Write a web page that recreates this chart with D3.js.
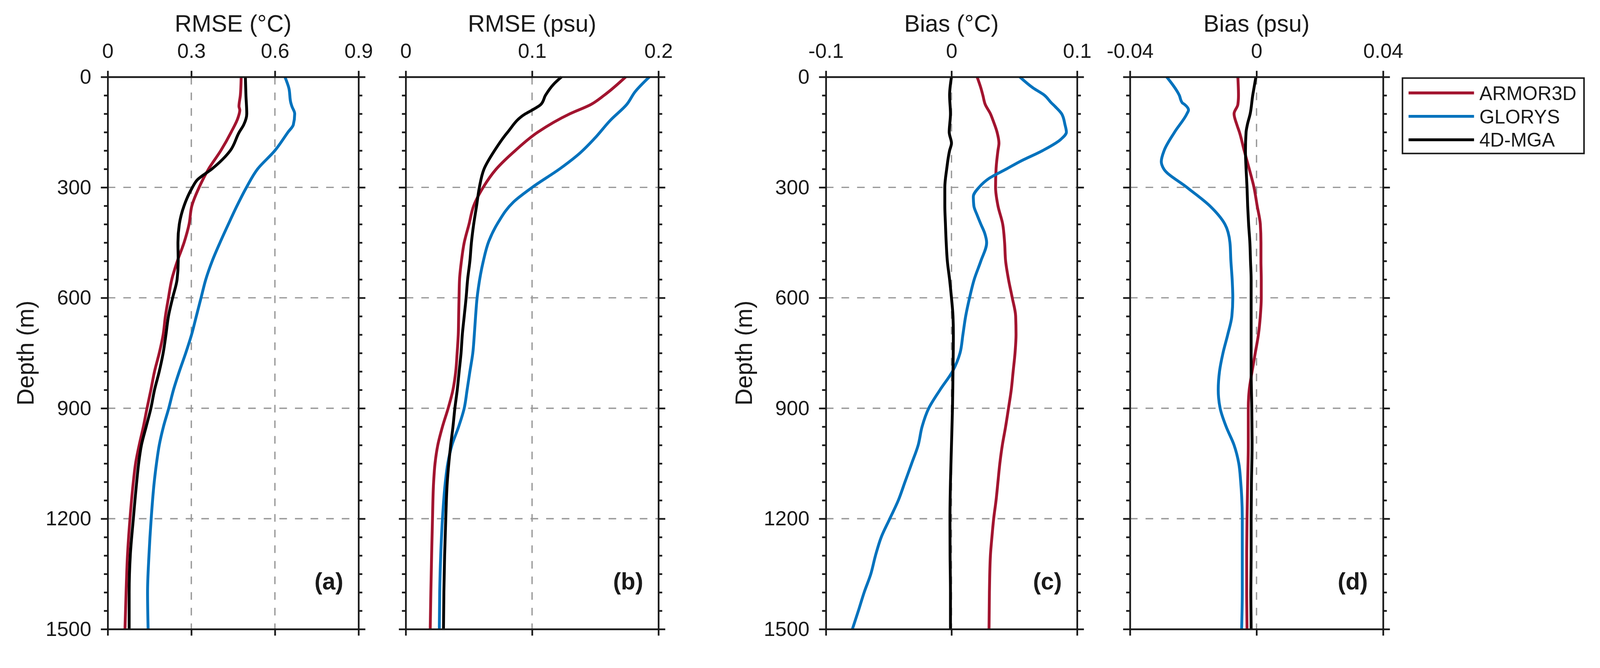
<!DOCTYPE html>
<html>
<head>
<meta charset="utf-8">
<script src="https://cdn.jsdelivr.net/npm/d3@7"></script>
<style>
  html, body { margin: 0; padding: 0; background: #fff; overflow: hidden; }
  svg { display: block; width: 100vw; height: 100vh; }
  text { font-family: "Liberation Sans", Arial, Helvetica, sans-serif; fill: #1a1a1a; }
</style>
</head>
<body>
<script>
// series names and colours (legend order = draw order)
var seriesNames = ["ARMOR3D", "GLORYS", "4D-MGA"];
var seriesColors = ["#A2142F", "#0072BD", "#000000"];

// depth axis
var depthDomain = [0, 1500];
var depthMajor = [0, 300, 600, 900, 1200, 1500];
var depthMinor = d3.range(0, 1501, 50);
var depthGrid = [300, 600, 900, 1200];

// x axes, one per panel
var aTicks = [0, 0.3, 0.6, 0.9], aTickLabels = ["0", "0.3", "0.6", "0.9"];
var bTicks = [0, 0.1, 0.2], bTickLabels = ["0", "0.1", "0.2"];
var cTicks = [-0.1, 0, 0.1], cTickLabels = ["-0.1", "0", "0.1"];
var dTicks = [-0.04, 0, 0.04], dTickLabels = ["-0.04", "0", "0.04"];

// (a) RMSE temperature, [depth m, value]
var rmseT_armor = [[0,.479],[50,.476],[80,.471],[90,.474],[110,.468],[150,.443],[200,.406],[250,.362],[300,.328],[350,.302],[400,.292],[450,.274],[500,.250],[550,.230],[600,.218],[650,.207],[700,.199],[750,.185],[800,.168],[850,.155],[900,.141],[950,.128],[1000,.113],[1050,.100],[1100,.092],[1200,.080],[1300,.071],[1400,.066],[1500,.062]];
var rmseT_glorys = [[0,.636],[30,.650],[70,.657],[80,.661],[100,.671],[130,.666],[150,.647],[200,.600],[250,.538],[300,.498],[350,.464],[400,.433],[450,.403],[500,.375],[550,.352],[600,.335],[650,.318],[700,.301],[750,.280],[800,.257],[850,.236],[900,.219],[950,.200],[1000,.185],[1050,.175],[1100,.167],[1200,.156],[1300,.148],[1400,.143],[1500,.145]];
var rmseT_mga = [[0,.494],[50,.496],[100,.499],[130,.488],[150,.472],[200,.440],[250,.374],[280,.321],[300,.304],[350,.274],[400,.257],[450,.252],[500,.253],[550,.249],[600,.233],[650,.218],[700,.209],[750,.199],[800,.185],[850,.168],[900,.155],[950,.138],[1000,.121],[1050,.111],[1100,.104],[1200,.092],[1300,.081],[1400,.077],[1500,.077]];

// (b) RMSE salinity
var rmseS_armor = [[0,.1741],[50,.157],[75,.1465],[100,.130],[150,.1046],[200,.0867],[250,.0717],[300,.0613],[350,.0538],[400,.0501],[450,.0463],[500,.0441],[550,.0426],[600,.0422],[650,.0419],[700,.0416],[750,.0407],[800,.0396],[850,.0374],[900,.0336],[950,.0291],[1000,.0254],[1050,.0232],[1100,.0221],[1200,.0212],[1300,.0205],[1400,.0199],[1500,.0194]];
var rmseS_glorys = [[0,.1928],[40,.1816],[75,.1749],[117,.1622],[167,.1495],[208,.1375],[248,.1226],[300,.1001],[340,.0852],[395,.0732],[446,.0658],[502,.0613],[573,.0575],[600,.0565],[650,.0553],[700,.0543],[750,.0531],[800,.0508],[850,.0486],[900,.0463],[950,.0419],[1000,.0366],[1050,.0333],[1100,.0314],[1200,.0291],[1300,.0277],[1400,.0269],[1500,.0266]];
var rmseS_mga = [[0,.1233],[20,.117],[50,.1106],[75,.1069],[90,.1001],[100,.0949],[150,.0807],[200,.0703],[250,.062],[300,.0583],[350,.0561],[400,.0538],[450,.052],[500,.0508],[550,.049],[600,.0478],[650,.0463],[700,.0448],[750,.0438],[800,.0423],[850,.0408],[900,.0389],[950,.0374],[1000,.0356],[1050,.0341],[1100,.0329],[1200,.0317],[1300,.0308],[1400,.0302],[1500,.0299]];

// (c) bias temperature
var biasT_armor = [[0,.0204],[30,.0234],[50,.025],[75,.0269],[100,.031],[120,.0333],[150,.0363],[180,.0378],[200,.037],[250,.0355],[300,.0351],[350,.037],[400,.0408],[450,.0423],[500,.0431],[550,.0454],[600,.0484],[650,.0511],[700,.0514],[750,.0506],[800,.0491],[850,.0476],[900,.0454],[950,.0431],[1000,.0405],[1050,.0385],[1100,.037],[1150,.0355],[1200,.0336],[1250,.0322],[1300,.031],[1400,.0302],[1500,.0299]];
var biasT_glorys = [[0,.0544],[30,.065],[50,.0741],[70,.0794],[80,.0824],[100,.0877],[130,.0904],[150,.0915],[170,.0869],[200,.0726],[230,.0544],[250,.0438],[275,.0302],[300,.0219],[325,.0174],[350,.0178],[375,.0204],[400,.0234],[425,.0265],[450,.028],[500,.0234],[550,.0181],[600,.0144],[650,.0113],[700,.0091],[750,.0068],[800,.0008],[850,-.0091],[900,-.0181],[950,-.0234],[1000,-.0265],[1050,-.0317],[1100,-.037],[1150,-.0423],[1200,-.0491],[1250,-.0559],[1300,-.0605],[1350,-.0642],[1400,-.0695],[1450,-.0741],[1500,-.0789]];
var biasT_mga = [[0,0],[50,-.0015],[100,-.0008],[150,-.0018],[180,0],[200,-.0015],[250,-.0038],[300,-.0053],[350,-.0053],[400,-.0048],[450,-.0042],[500,-.0033],[550,-.0015],[600,0],[650,.0012],[700,.0015],[800,.0012],[900,.0008],[1000,0],[1100,-.0008],[1200,-.0012],[1300,-.0011],[1400,-.0008],[1500,-.0008]];

// (d) bias salinity
var biasS_armor = [[0,-.0059],[50,-.0057],[75,-.0059],[100,-.0071],[130,-.0062],[150,-.0054],[200,-.0039],[250,-.0023],[300,-.0008],[350,.0002],[400,.0012],[450,.0014],[500,.0014],[550,.0015],[600,.0015],[650,.0012],[700,.0006],[750,-.0004],[800,-.0014],[850,-.0023],[900,-.0026],[1000,-.0026],[1100,-.0028],[1200,-.003],[1300,-.0031],[1400,-.0031],[1500,-.003]];
var biasS_glorys = [[0,-.0284],[50,-.0244],[70,-.0235],[75,-.0227],[90,-.0215],[100,-.022],[150,-.0259],[200,-.0292],[230,-.0301],[250,-.0293],[300,-.022],[350,-.0148],[400,-.01],[450,-.0084],[500,-.0081],[550,-.0077],[600,-.0075],[650,-.0078],[700,-.0091],[750,-.0106],[800,-.0117],[850,-.0121],[900,-.0115],[950,-.0096],[1000,-.0071],[1050,-.0056],[1100,-.005],[1200,-.0045],[1300,-.0045],[1400,-.0045],[1500,-.0047]];
var biasS_mga = [[0,-.0002],[30,-.0008],[50,-.0012],[100,-.002],[130,-.0029],[150,-.0033],[200,-.0035],[250,-.0033],[300,-.003],[350,-.0028],[400,-.0025],[450,-.0021],[500,-.0019],[550,-.0017],[600,-.0017],[700,-.0017],[800,-.0017],[900,-.0015],[1000,-.0014],[1100,-.0016],[1200,-.0017],[1300,-.0017],[1400,-.0018],[1500,-.0017]];

var W = 4204, H = 1709;
var plotTop = 202, plotBottom = 1652;
var ink = "#1a1a1a";

var panels = [
  {left: 283, right: 942, ticks: aTicks, labels: aTickLabels, title: "RMSE (\u00B0C)", tag: "(a)", ylab: true,
   series: [rmseT_armor, rmseT_glorys, rmseT_mga]},
  {left: 1066, right: 1730, ticks: bTicks, labels: bTickLabels, title: "RMSE (psu)", tag: "(b)", ylab: false,
   series: [rmseS_armor, rmseS_glorys, rmseS_mga]},
  {left: 2170, right: 2830, ticks: cTicks, labels: cTickLabels, title: "Bias (\u00B0C)", tag: "(c)", ylab: true,
   series: [biasT_armor, biasT_glorys, biasT_mga]},
  {left: 2969, right: 3634, ticks: dTicks, labels: dTickLabels, title: "Bias (psu)", tag: "(d)", ylab: false,
   series: [biasS_armor, biasS_glorys, biasS_mga]}
];

// the svg fills the viewport and scales its 4204x1709 drawing into it, pinned top-left
var svg = d3.select("body").append("svg")
    .attr("viewBox", [0, 0, W, H])
    .attr("preserveAspectRatio", "xMinYMin meet");

var y = d3.scaleLinear().domain(depthDomain).range([plotTop, plotBottom]);

function styleAxis(g) {
  g.select(".domain").attr("stroke", ink).attr("stroke-width", 4.5);
  g.selectAll(".tick line").attr("stroke", ink).attr("stroke-width", 4.5);
  g.selectAll(".tick text").attr("fill", ink).style("font-size", "54px")
    .style("font-family", "'Liberation Sans', Arial, sans-serif");
}

panels.forEach(function (p) {
  var x = d3.scaleLinear()
      .domain([p.ticks[0], p.ticks[p.ticks.length - 1]])
      .range([p.left, p.right]);
  var g = svg.append("g");

  // dashed grid
  var vgrid = p.ticks.slice(1, -1);
  g.selectAll(".vg").data(vgrid).join("line")
    .attr("x1", function (d) { return x(d); }).attr("x2", function (d) { return x(d); })
    .attr("y1", plotTop).attr("y2", plotBottom)
    .attr("stroke", "#999").attr("stroke-width", 3.5).attr("stroke-dasharray", "20,21");
  g.selectAll(".hg").data(depthGrid).join("line")
    .attr("x1", p.left).attr("x2", p.right)
    .attr("y1", function (d) { return y(d); }).attr("y2", function (d) { return y(d); })
    .attr("stroke", "#999").attr("stroke-width", 3.5).attr("stroke-dasharray", "20,21");

  // profiles
  var line = d3.line()
      .x(function (d) { return x(d[1]); })
      .y(function (d) { return y(d[0]); })
      .curve(d3.curveMonotoneY);
  p.series.forEach(function (s, i) {
    g.append("path").datum(s)
      .attr("d", line)
      .attr("fill", "none")
      .attr("stroke", seriesColors[i])
      .attr("stroke-width", 7.5)
      .attr("stroke-linejoin", "round");
  });

  // axes
  var fmt = function (d, i) { return p.labels[i]; };
  g.append("g").attr("transform", "translate(0," + plotTop + ")")
    .call(d3.axisTop(x).tickValues(p.ticks).tickFormat(fmt).tickSizeInner(16).tickSizeOuter(0).tickPadding(34))
    .call(styleAxis);
  g.append("g").attr("transform", "translate(0," + plotBottom + ")")
    .call(d3.axisBottom(x).tickValues(p.ticks).tickFormat("").tickSizeInner(17).tickSizeOuter(0))
    .call(styleAxis);

  [["left", p.left, d3.axisLeft], ["right", p.right, d3.axisRight]].forEach(function (side) {
    var ax = g.append("g").attr("transform", "translate(" + side[1] + ",0)");
    ax.call(side[2](y).tickValues(depthMinor.filter(function (d) { return depthMajor.indexOf(d) < 0; }))
        .tickFormat("").tickSizeInner(10).tickSizeOuter(0))
      .call(styleAxis);
    var maj = g.append("g").attr("transform", "translate(" + side[1] + ",0)");
    maj.call(side[2](y).tickValues(depthMajor)
        .tickFormat(side[0] === "left" && p.ylab ? d3.format("d") : "")
        .tickSizeInner(18).tickSizeOuter(0).tickPadding(25))
      .call(styleAxis);
    maj.select(".domain").remove();
  });

  // title
  g.append("text")
    .attr("x", (p.left + p.right) / 2).attr("y", 83)
    .attr("text-anchor", "middle")
    .style("font-size", "62px")
    .text(p.title);

  // panel tag
  g.append("text")
    .attr("x", p.right - 40).attr("y", 1548)
    .attr("text-anchor", "end")
    .style("font-size", "62px").style("font-weight", "bold")
    .text(p.tag);

  if (p.ylab) {
    g.append("text")
      .attr("transform", "translate(" + (p.left - 216) + "," + ((plotTop + plotBottom) / 2) + ") rotate(-90)")
      .attr("text-anchor", "middle")
      .attr("dy", "0.35em")
      .style("font-size", "62px")
      .text("Depth (m)");
  }
});

// legend
var leg = svg.append("g");
leg.append("rect")
  .attr("x", 3685).attr("y", 205).attr("width", 477).attr("height", 198)
  .attr("fill", "#fff").attr("stroke", ink).attr("stroke-width", 4);
var rows = leg.selectAll(".row").data(seriesNames).join("g")
  .attr("transform", function (d, i) { return "translate(0," + (244 + i * 61.5) + ")"; });
rows.append("line")
  .attr("x1", 3701).attr("x2", 3873)
  .attr("stroke", function (d, i) { return seriesColors[i]; })
  .attr("stroke-width", 7.5);
rows.append("text")
  .attr("x", 3887).attr("dy", "0.36em")
  .style("font-size", "51px")
  .text(function (d) { return d; });
</script>
</body>
</html>
